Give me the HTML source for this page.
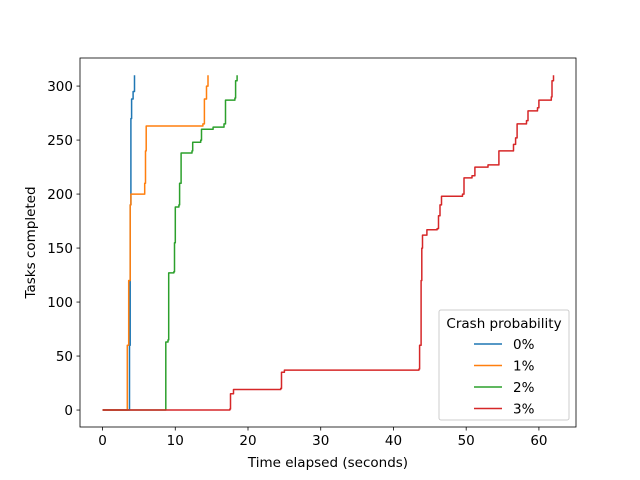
<!DOCTYPE html>
<html><head><meta charset="utf-8"><style>body{margin:0;background:#fff}svg{display:block;font-family:"DejaVu Sans","Liberation Sans",sans-serif}</style></head>
<body>
<svg id="chart" width="640" height="480" viewBox="0 0 640 480">
<rect width="640" height="480" fill="#fff"/>
<g id="plot"></g>
<g id="axes"></g>
<g id="legend"></g>
</svg>
<script>
const seriesNames = ["0%","1%","2%","3%"];
const colors = ["#1f77b4","#ff7f0e","#2ca02c","#d62728"];
const s0 = [[0,0],[3.6,0],[3.7,60],[3.8,190],[3.9,270],[4.0,288],[4.2,295],[4.4,310]];
const s1 = [[0,0],[3.3,0],[3.4,60],[3.6,120],[3.8,190],[3.9,200],[5.7,200],[5.8,210],[5.9,240],[6.0,263],[13.8,265],[14.0,288],[14.3,300],[14.5,310]];
const s2 = [[0,0],[8.6,0],[8.7,63],[9.0,65],[9.1,127],[9.8,128],[9.9,155],[10,188],[10.5,190],[10.6,210],[10.8,238],[12.3,240],[12.4,248],[13.5,250],[13.6,260],[15.2,262],[16.7,265],[16.9,287],[18.2,289],[18.3,305],[18.5,310]];
const s3 = [[0,0],[17.5,1],[17.6,15],[18,19],[24.5,20],[24.6,35],[25,37],[43.5,38],[43.6,60],[43.8,120],[43.9,150],[44,162],[44.6,167],[46,168],[46.2,180],[46.4,190],[46.6,198],[49.5,200],[49.7,215],[50.8,217],[51.2,225],[53,227],[54.5,240],[56.5,246],[56.8,252],[57,265],[58.3,268],[58.5,277],[59.8,280],[60,287],[61.7,290],[61.8,305],[62,310]];
const xTicks = [0,10,20,30,40,50,60];
const yTicks = [0,50,100,150,200,250,300];

const L=80,R=576,T=58,B=427;
const xmin=-3.1,xmax=65.1,ymin=-15.7,ymax=326;
const X=v=>L+(v-xmin)/(xmax-xmin)*(R-L);
const Y=v=>B-(v-ymin)/(ymax-ymin)*(B-T);
const NS="http://www.w3.org/2000/svg";
function mk(tag,attrs,parent){const e=document.createElementNS(NS,tag);for(const k in attrs)e.setAttribute(k,attrs[k]);parent.appendChild(e);return e;}
const plot=document.getElementById('plot'),axes=document.getElementById('axes'),leg=document.getElementById('legend');
const all=[s0,s1,s2,s3];
all.forEach((s,i)=>{
  const pts=[];
  s.forEach((d,j)=>{
    if(j>0) pts.push(X(d[0]).toFixed(1)+','+Y(s[j-1][1]).toFixed(1));
    pts.push(X(d[0]).toFixed(1)+','+Y(d[1]).toFixed(1));
  });
  const p=mk('polyline',{points:pts.join(' '),fill:'none',stroke:colors[i],'stroke-width':1.5,'stroke-linejoin':'round'},plot);
  
  
});
const frame=mk('rect',{x:L,y:T,width:R-L,height:B-T,fill:'none',stroke:'#000','stroke-width':0.8},axes);


const FS=13.5;
xTicks.forEach(v=>{
  mk('line',{x1:X(v),x2:X(v),y1:B,y2:B+3.5,stroke:'#000','stroke-width':0.8},axes);
  const t=mk('text',{x:X(v),y:B+18,'font-size':FS,'text-anchor':'middle'},axes);t.textContent=v;
  
  
});
yTicks.forEach(v=>{
  mk('line',{x1:L-3.5,x2:L,y1:Y(v),y2:Y(v),stroke:'#000','stroke-width':0.8},axes);
  const t=mk('text',{x:L-7,y:Y(v)+5,'font-size':FS,'text-anchor':'end'},axes);t.textContent=v;
  
  
});
const xt=mk('text',{x:(L+R)/2,y:467,'font-size':FS,'text-anchor':'middle'},axes);xt.textContent='Time elapsed (seconds)';


const yt=mk('text',{x:35,y:(T+B)/2,'font-size':FS,'text-anchor':'middle',transform:'rotate(-90 35 '+((T+B)/2)+')'},axes);yt.textContent='Tasks completed';


const lb=mk('rect',{x:439,y:310,width:130,height:110,rx:2,fill:'#fff',stroke:'#ccc','stroke-width':1},leg);


const lt=mk('text',{x:504,y:328,'font-size':FS,'text-anchor':'middle'},leg);lt.textContent='Crash probability';


seriesNames.forEach((n,i)=>{
  const y=344+i*21.5;
  mk('line',{x1:474,x2:502,y1:y,y2:y,stroke:colors[i],'stroke-width':1.5},leg);
  const t=mk('text',{x:513,y:y+5,'font-size':FS},leg);t.textContent=n;
  
  
});
</script>
</body></html>
